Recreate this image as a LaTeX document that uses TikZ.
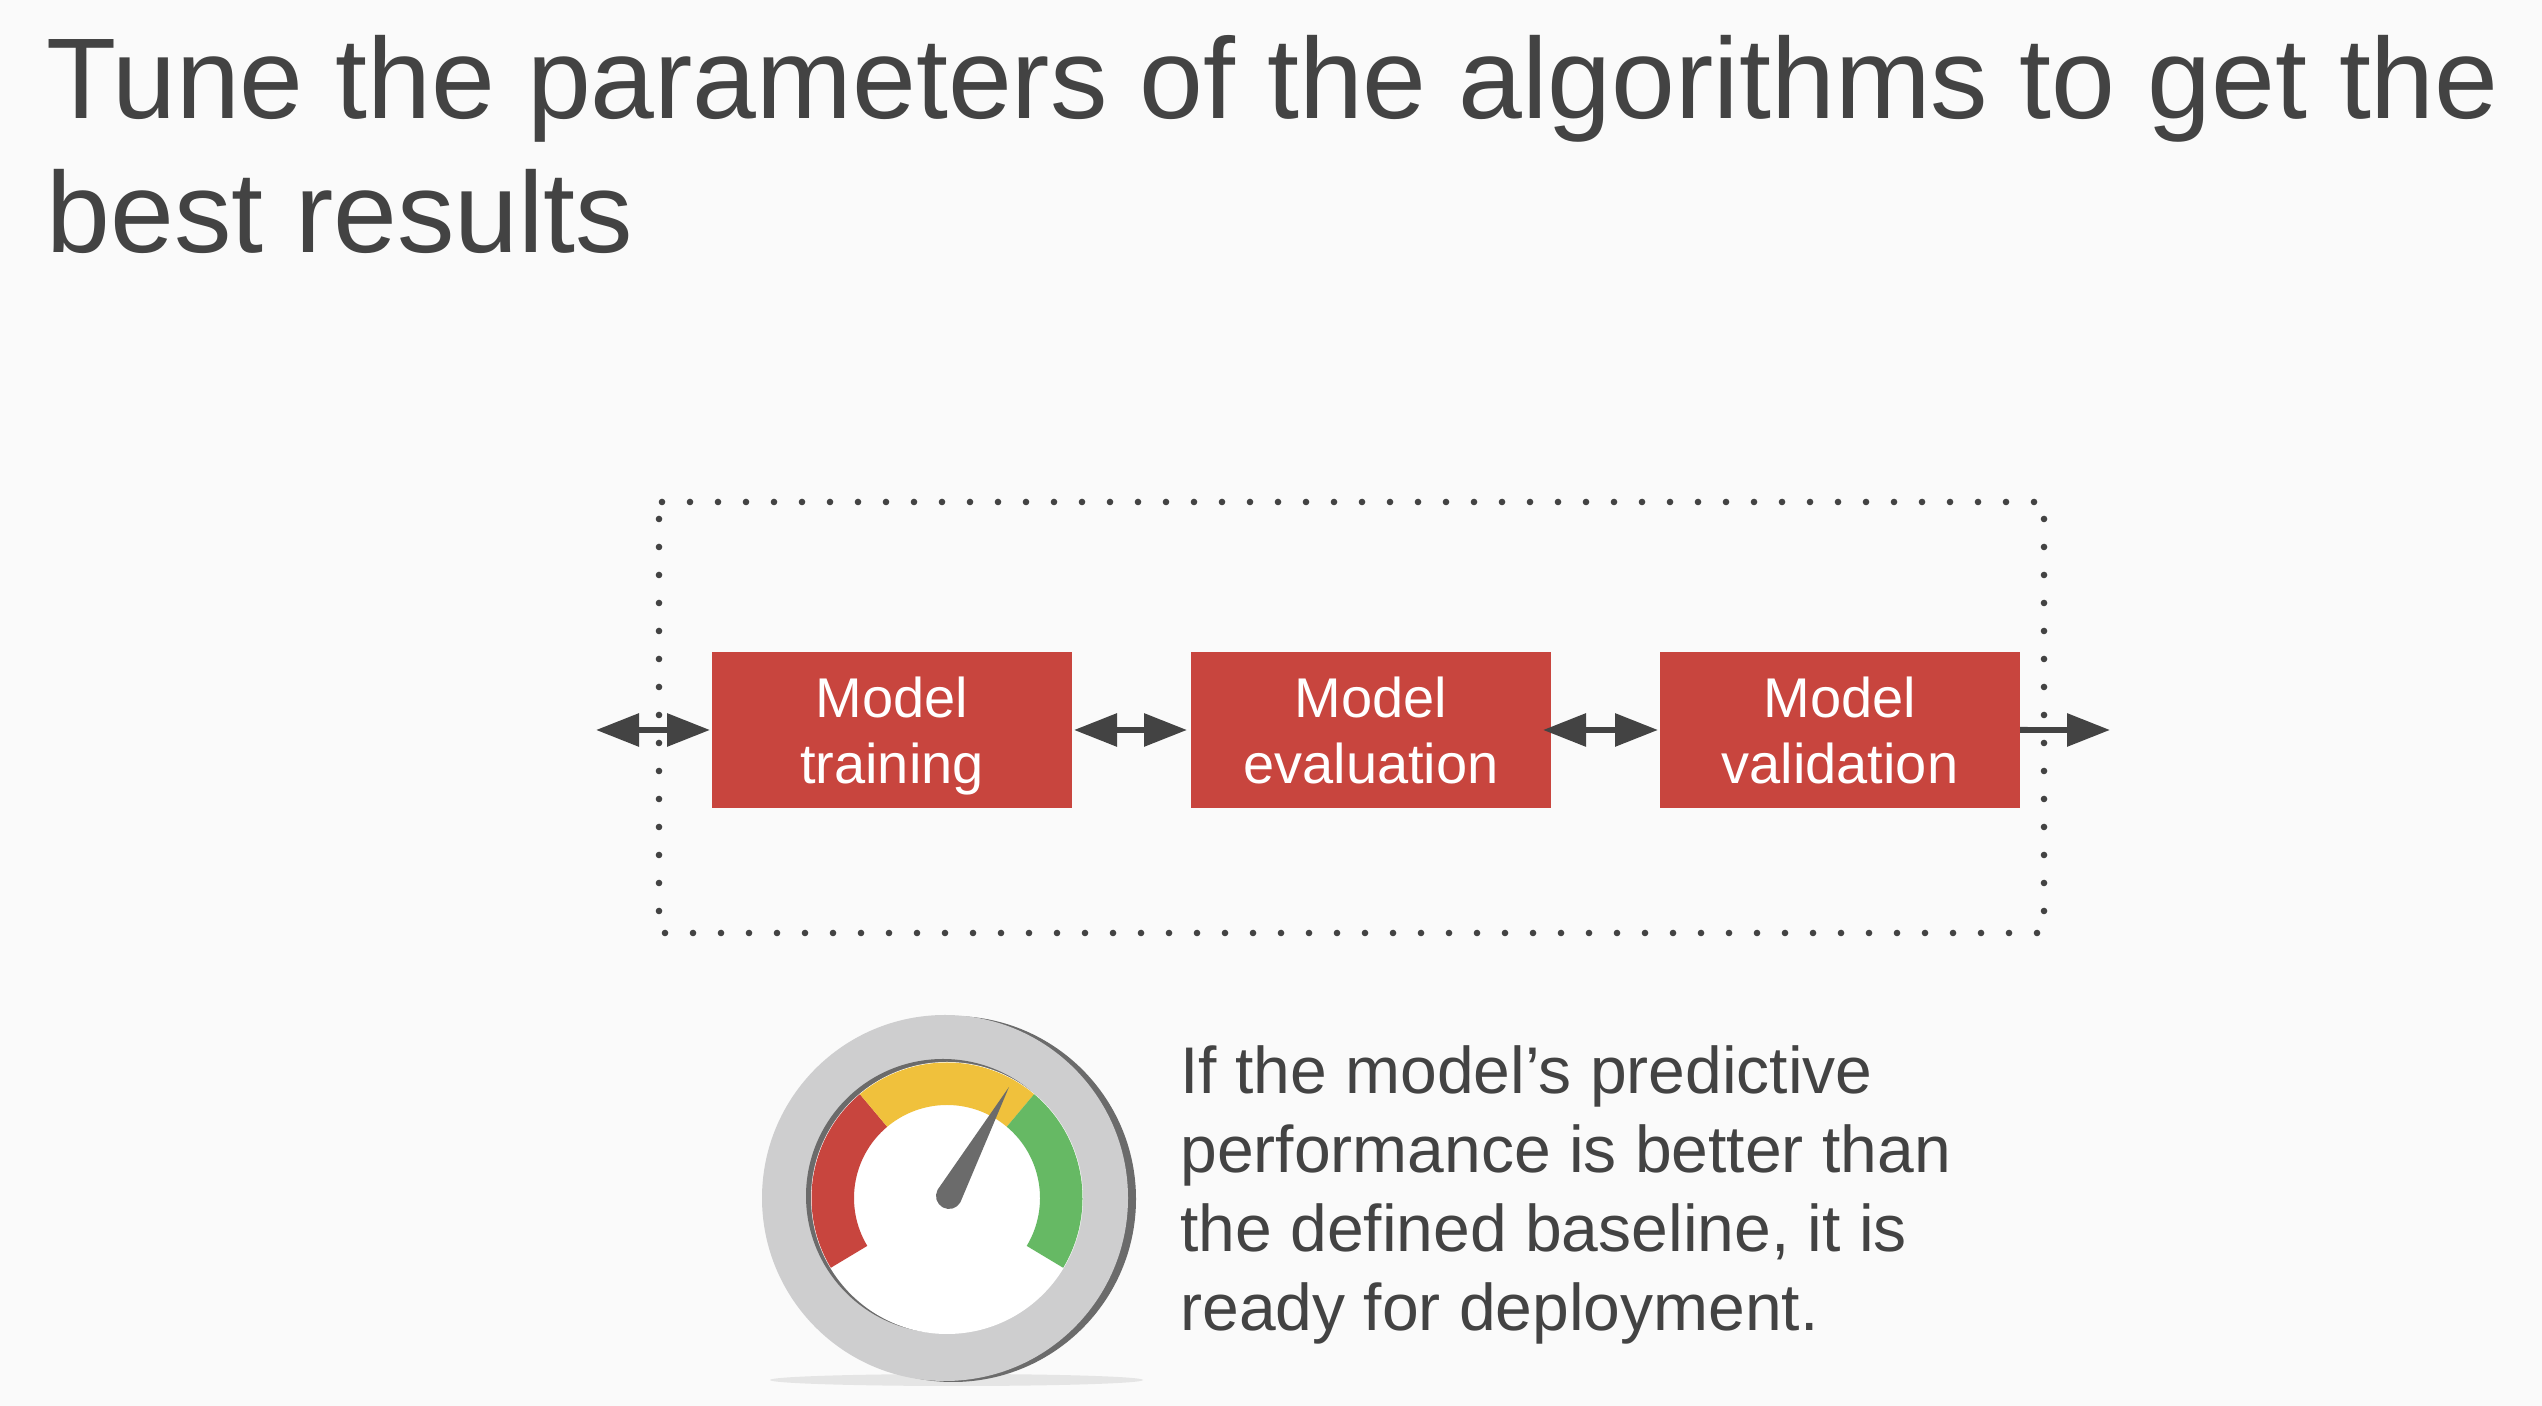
\documentclass[tikz,border=0pt]{standalone}
\usepackage{fontspec}
\setmainfont{Liberation Sans}
\usetikzlibrary{arrows.meta}
\definecolor{slidebg}{HTML}{FAFAFA}
\definecolor{inkgray}{HTML}{434343}
\definecolor{boxred}{HTML}{C8453E}
\definecolor{gaugeyellow}{HTML}{F0C13C}
\definecolor{gaugegreen}{HTML}{66B964}
\definecolor{ringgray}{HTML}{CECECF}
\definecolor{ringdark}{HTML}{6B6B6B}
\tikzset{
	every stage/.style={fill=boxred, text=white, minimum width=180pt, minimum height=78pt, outer sep=0pt, inner sep=0pt, align=center, text depth=0pt, font=\fontsize{28}{33}\selectfont},
	every link/.style={draw=inkgray, line width=3pt, {Triangle[length=21.5pt,width=16pt]}-{Triangle[length=21.5pt,width=16pt]}},
	frame dots/.style={draw=inkgray, line width=3.3pt, line cap=round, dash pattern=on 0pt off 14pt}
}
\begin{document}
\begin{tikzpicture}[x=0.5pt, y=0.5pt]
	\fill [slidebg] (0,0) rectangle (2542,1406);
	\useasboundingbox (0,0) rectangle (2542,1406);
	
	\node [anchor=north west, align=left, text=inkgray, inner sep=0pt, font=\fontsize{57.4}{67}\selectfont] (title) at (46,1371)
	{Tune the parameters of the algorithms to get the\\best results};
	
	% dotted frame
	\foreach \xa/\ya/\xb/\yb in {662/904/2035/904, 665/473/2039/473, 659/887/659/493, 2044/887/2044/493}
	\draw [frame dots] (\xa,\ya) -- (\xb,\yb);
	
	\foreach \m/\x [count=\i] in {training/892, evaluation/1371, validation/1840}
	\node [every stage/.try] (stage-\i) at (\x,676) {Model\\\m};
	
	\coordinate (in-end) at (596,676);
	\coordinate (out-end) at (2110,676);
	
	\draw [every link/.try, shorten >=1pt] (in-end) -- (stage-1);
	\draw [every link/.try, shorten <=1pt, shorten >=2pt] (stage-1) -- (stage-2);
	\draw [every link/.try, shorten <=-4pt, shorten >=1pt] (stage-2) -- (stage-3);
	\draw [every link/.try, {Butt Cap}-{Triangle[length=21.5pt,width=16pt]}] (stage-3) -- (out-end);
	
	% gauge
	\fill [black!10] (956.5,26) ellipse (186.5 and 6);
	\fill [ringdark] (953,207) circle (183);
	\fill [ringgray] (945,208) circle (183);
	\fill [ringdark] (943,210) circle (137);
	\fill [white] (947,208) circle (136);
	
	\foreach \c/\a/\b in {boxred/211/130, gaugeyellow/130/50, gaugegreen/50/-31}
	\fill [\c] (947,208) ++(\a:135.5) arc (\a:\b:135.5) -- ++(\b:-42.5) arc (\b:\a:93) -- cycle;
	
	\fill [ringdark] (949,210) ++(-29:13) arc (-29:-209:13) -- (1009,319) -- cycle;
	
	\node [anchor=north west, align=left, text=inkgray, inner sep=0pt, font=\fontsize{33}{39.5}\selectfont] (note) at (1180,361)
	{If the model's predictive\\performance is better than\\the defined baseline, it is\\ready for deployment.};
\end{tikzpicture}
\end{document}
